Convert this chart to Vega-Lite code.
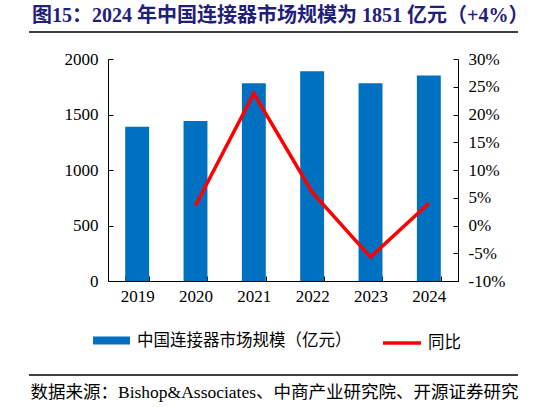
{
  "$schema": "https://vega.github.io/schema/vega-lite/v6.json",
  "width": 350,
  "height": 222,
  "autosize": {"type": "none"},
  "padding": {"left": 108, "top": 59, "right": 88, "bottom": 126},
  "background": "white",
  "config": {"view": {"stroke": null}, "font": "Liberation Serif"},
  "title": {
    "text": "图15：2024 年中国连接器市场规模为 1851 亿元（+4%）",
    "anchor": "start",
    "frame": "group",
    "orient": "top",
    "dx": -76,
    "dy": 20,
    "offset": 9,
    "baseline": "alphabetic",
    "font": "Liberation Serif, Noto Sans CJK SC",
    "fontSize": 20,
    "fontWeight": "bold",
    "color": "#1f2079"
  },
  "data": {
    "values": [
      {"year": "2019", "size": 1390, "growth": null},
      {"year": "2020", "size": 1441, "growth": 3.6},
      {"year": "2021", "size": 1781, "growth": 23.8},
      {"year": "2022", "size": 1889, "growth": 6.0},
      {"year": "2023", "size": 1781, "growth": -5.7},
      {"year": "2024", "size": 1851, "growth": 4.0}
    ]
  },
  "layer": [
    {
      "mark": {"type": "bar"},
      "encoding": {
        "x": {
          "field": "year",
          "type": "nominal",
          "scale": {"paddingInner": 0.59, "paddingOuter": 0.295},
          "axis": {
            "title": "数据来源：Bishop&Associates、中商产业研究院、开源证券研究",
            "titleX": -78,
            "titleY": 116,
            "titleAlign": "left",
            "titleAnchor": "start",
            "titleBaseline": "alphabetic",
            "titleFont": "Liberation Serif, Noto Sans CJK SC",
            "titleFontSize": 17.5,
            "titleFontWeight": "normal",
            "titleColor": "black",
            "titleLimit": 600,
            "labelAngle": 0,
            "labelFont": "Liberation Serif",
            "labelFontSize": 17,
            "labelColor": "black",
            "labelPadding": 12,
            "tickBand": "extent",
            "tickSize": -5,
            "tickColor": "black",
            "domainColor": "black",
            "grid": false
          }
        },
        "y": {
          "field": "size",
          "type": "quantitative",
          "scale": {"domain": [0, 2000], "nice": false},
          "axis": {
            "orient": "left",
            "values": [0, 500, 1000, 1500, 2000],
            "format": "d",
            "title": null,
            "grid": false,
            "tickSize": -5,
            "tickColor": "black",
            "domainColor": "black",
            "labelFont": "Liberation Serif",
            "labelFontSize": 17,
            "labelColor": "black",
            "labelPadding": 15
          }
        },
        "fill": {
          "datum": "中国连接器市场规模（亿元）",
          "scale": {"range": ["#0070C0"]},
          "legend": {
            "orient": "none",
            "legendX": -15,
            "legendY": 263,
            "title": null,
            "padding": 0,
            "symbolType": "M-1,-0.216H1V0.216H-1Z",
            "symbolSize": 1369,
            "symbolStrokeWidth": 0,
            "labelFont": "Noto Sans CJK SC",
            "labelFontSize": 16.5,
            "labelColor": "black",
            "labelOffset": 7,
            "labelLimit": 400
          }
        }
      }
    },
    {
      "mark": {"type": "line", "strokeWidth": 3.5},
      "encoding": {
        "x": {
          "field": "year",
          "type": "nominal",
          "scale": {"paddingInner": 0.59, "paddingOuter": 0.295},
          "axis": null
        },
        "y": {
          "field": "growth",
          "type": "quantitative",
          "scale": {"domain": [-10, 30], "nice": false, "zero": false},
          "axis": {
            "orient": "right",
            "values": [-10, -5, 0, 5, 10, 15, 20, 25, 30],
            "labelExpr": "datum.value + '%'",
            "title": null,
            "grid": false,
            "tickSize": -5,
            "tickColor": "black",
            "domainColor": "black",
            "labelFont": "Liberation Serif",
            "labelFontSize": 17,
            "labelColor": "black",
            "labelPadding": 15
          }
        },
        "stroke": {
          "datum": "同比",
          "scale": {"range": ["#FF0000"]},
          "legend": {
            "orient": "none",
            "legendX": 273,
            "legendY": 263,
            "title": null,
            "padding": 0,
            "symbolType": "stroke",
            "symbolSize": 1444,
            "symbolStrokeWidth": 3.5,
            "labelFont": "Noto Sans CJK SC",
            "labelFontSize": 16.5,
            "labelColor": "black",
            "labelOffset": 5
          }
        }
      }
    },
    {
      "data": {"values": [{}]},
      "mark": {"type": "rule", "color": "black", "strokeWidth": 1.3},
      "encoding": {
        "x": {"datum": -79, "type": "quantitative", "scale": {"domain": [0, 350], "nice": false, "zero": false}, "axis": null},
        "x2": {"datum": 410},
        "y": {"datum": 249, "type": "quantitative", "scale": {"domain": [0, 222], "nice": false, "zero": false}, "axis": null}
      }
    },
    {
      "data": {"values": [{}]},
      "mark": {"type": "rule", "color": "black", "strokeWidth": 1.3},
      "encoding": {
        "x": {"datum": -79, "type": "quantitative", "scale": {"domain": [0, 350], "nice": false, "zero": false}, "axis": null},
        "x2": {"datum": 410},
        "y": {"datum": -94, "type": "quantitative", "scale": {"domain": [0, 222], "nice": false, "zero": false}, "axis": null}
      }
    }
  ],
  "resolve": {"scale": {"x": "independent", "y": "independent", "fill": "independent", "stroke": "independent"}}
}
